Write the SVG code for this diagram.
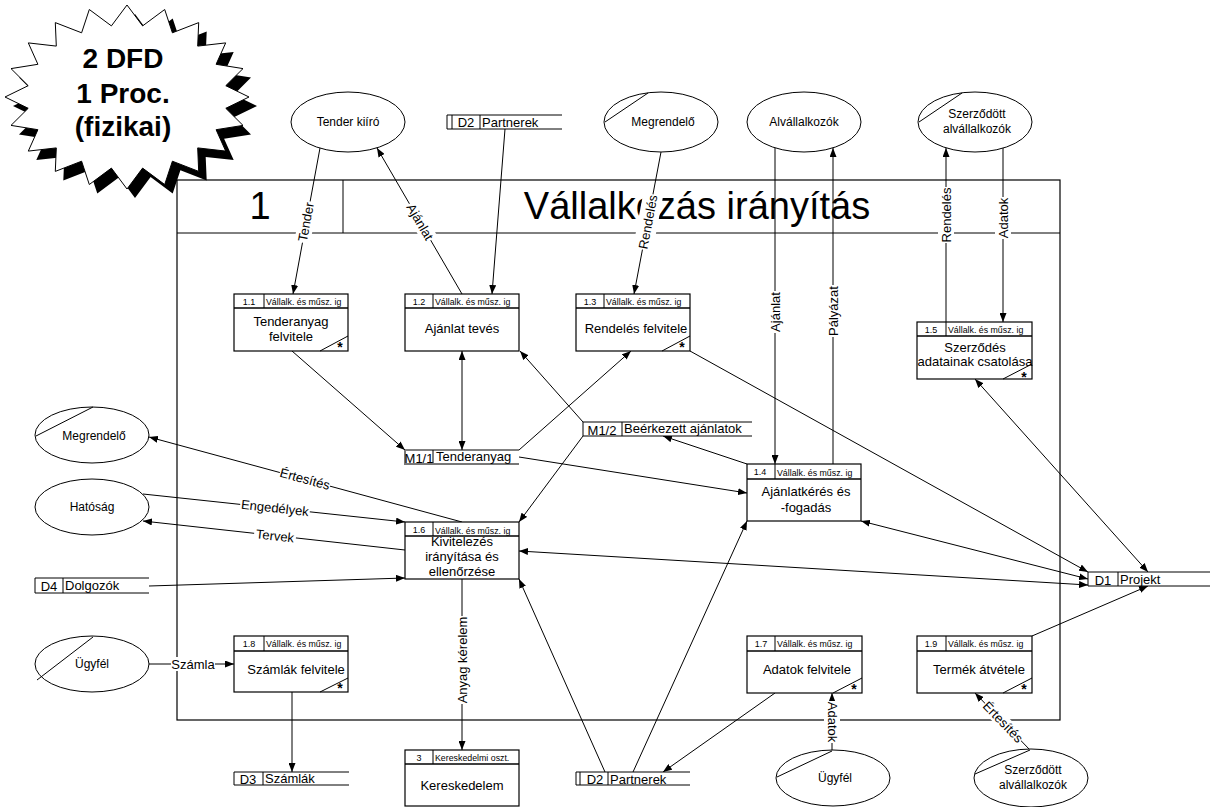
<svg xmlns="http://www.w3.org/2000/svg" width="1210" height="807" viewBox="0 0 1210 807">
<defs>
  <marker id="ah" markerWidth="9" markerHeight="7" refX="9" refY="3.5" orient="auto-start-reverse" markerUnits="userSpaceOnUse">
    <path d="M0,0 L9,3.5 L0,7 z" fill="#000"/>
  </marker>
  <style>
    text { font-family: "Liberation Sans", Arial, sans-serif; fill: #000; }
    .ln { stroke: #000; stroke-width: 1; fill: none; }
    .arr { stroke: #000; stroke-width: 1; fill: none; marker-end: url(#ah); }
    .bi { stroke: #000; stroke-width: 1; fill: none; marker-start: url(#ah); marker-end: url(#ah); }
    .box { fill: #fff; stroke: #000; stroke-width: 1.2; }
    .hdr { stroke: #000; stroke-width: 1.6; }
    .ent { fill: #fff; stroke: #000; stroke-width: 1; }
    .num { font-size: 9px; text-anchor: middle; }
    .loc { font-size: 8.8px; }
    .body { font-size: 13px; text-anchor: middle; }
    .ename { font-size: 12px; text-anchor: middle; }
    .ds { font-size: 13px; }
    .lbl { font-size: 13px; text-anchor: middle; dominant-baseline: central; }
    .bg { fill: #fff; }
    .star { font-size: 14px; font-weight: bold; text-anchor: middle; }
  </style>
</defs>

<rect width="1210" height="807" fill="#fff"/>

<!-- Process 1 boundary with its header -->
<g id="frame">
  <rect x="177" y="180" width="883" height="540" fill="none" stroke="#000" stroke-width="1.2"/>
  <line x1="177" y1="233" x2="1060" y2="233" class="ln" stroke-width="1.2"/>
  <line x1="343" y1="180" x2="343" y2="233" class="ln" stroke-width="1.2"/>
  <text x="260" y="219" font-size="38" text-anchor="middle">1</text>
  <text x="697" y="219" font-size="38" text-anchor="middle">Vállalkozás irányítás</text>
</g>

<!-- Flows -->
<g id="connectors">
  <line x1="320" y1="148" x2="293" y2="294" class="arr"/>
  <line x1="462" y1="294" x2="377" y2="148" class="arr"/>
  <line x1="505" y1="129" x2="492" y2="294" class="arr"/>
  <line x1="661" y1="152" x2="634" y2="294" class="arr"/>
  <line x1="775" y1="148" x2="775" y2="464" class="arr"/>
  <line x1="833" y1="464" x2="833" y2="148" class="arr"/>
  <line x1="946" y1="322" x2="946" y2="148" class="arr"/>
  <line x1="1003" y1="148" x2="1003" y2="322" class="arr"/>
  <line x1="292" y1="351" x2="405" y2="450" class="arr"/>
  <line x1="462" y1="450" x2="462" y2="351" class="bi"/>
  <line x1="519" y1="450" x2="631" y2="351" class="arr"/>
  <line x1="583" y1="422" x2="520" y2="351" class="arr"/>
  <line x1="690" y1="351" x2="1088" y2="572" class="arr"/>
  <line x1="583" y1="436" x2="519" y2="522" class="arr"/>
  <line x1="747" y1="464" x2="663" y2="436" class="arr"/>
  <line x1="519" y1="457" x2="747" y2="493" class="arr"/>
  <line x1="462" y1="522" x2="149" y2="437" class="arr"/>
  <line x1="143" y1="494" x2="405" y2="522" class="arr"/>
  <line x1="405" y1="550" x2="143" y2="521" class="arr"/>
  <line x1="149" y1="586" x2="405" y2="578" class="arr"/>
  <line x1="519" y1="551" x2="1088" y2="585" class="bi"/>
  <line x1="861" y1="521" x2="1088" y2="579" class="bi"/>
  <line x1="975" y1="379" x2="1148" y2="572" class="bi"/>
  <line x1="1032" y1="636" x2="1148" y2="586" class="arr"/>
  <line x1="605" y1="772" x2="519" y2="579" class="arr"/>
  <line x1="633" y1="772" x2="747" y2="521" class="arr"/>
  <line x1="775" y1="693" x2="663" y2="772" class="arr"/>
  <line x1="832" y1="750" x2="832" y2="693" class="arr"/>
  <line x1="1030" y1="750" x2="975" y2="693" class="arr"/>
  <line x1="149" y1="664" x2="234" y2="664" class="arr"/>
  <line x1="292" y1="692" x2="292" y2="772" class="arr"/>
  <line x1="462" y1="579" x2="462" y2="750" class="arr"/>

  <!-- flow labels -->
  <g transform="translate(306,222) rotate(-79.5)"><rect class="bg" x="-21" y="-8" width="42" height="16"/><text class="lbl">Tender</text></g>
  <g transform="translate(420,222) rotate(59.8)"><rect class="bg" x="-21" y="-8" width="42" height="16"/><text class="lbl">Ajánlat</text></g>
  <g transform="translate(648,222) rotate(-79.2)"><rect class="bg" x="-28" y="-10" width="56" height="20"/><text class="lbl">Rendelés</text></g>
  <g transform="translate(775,312) rotate(-90)"><rect class="bg" x="-21" y="-8" width="42" height="16"/><text class="lbl">Ajánlat</text></g>
  <g transform="translate(833,311) rotate(-90)"><rect class="bg" x="-26" y="-8" width="52" height="16"/><text class="lbl">Pályázat</text></g>
  <g transform="translate(946,215) rotate(-90)"><rect class="bg" x="-28" y="-8" width="56" height="16"/><text class="lbl">Rendelés</text></g>
  <g transform="translate(1003,218) rotate(-90)"><rect class="bg" x="-21" y="-8" width="42" height="16"/><text class="lbl">Adatok</text></g>
  <g transform="translate(305,479) rotate(15.2)"><rect class="bg" x="-26" y="-7" width="52" height="14"/><text class="lbl">Értesítés</text></g>
  <g transform="translate(275,508) rotate(6.1)"><rect class="bg" x="-35" y="-7" width="70" height="14"/><text class="lbl">Engedélyek</text></g>
  <g transform="translate(275,536) rotate(6.3)"><rect class="bg" x="-21" y="-7" width="42" height="14"/><text class="lbl">Tervek</text></g>
  <g transform="translate(193,664)"><rect class="bg" x="-22" y="-7" width="44" height="14"/><text class="lbl">Számla</text></g>
  <g transform="translate(462,660) rotate(-90)"><rect class="bg" x="-44" y="-8" width="88" height="16"/><text class="lbl">Anyag kérelem</text></g>
  <g transform="translate(832,722) rotate(90)"><rect class="bg" x="-21" y="-8" width="42" height="16"/><text class="lbl">Adatok</text></g>
  <g transform="translate(1003,722) rotate(46)"><rect class="bg" x="-26" y="-7" width="52" height="14"/><text class="lbl">Értesítés</text></g>
</g>

<!-- External entities -->
<g id="e-tender-kiiro">
  <ellipse class="ent" cx="348" cy="122" rx="57" ry="30"/>
  <text class="ename" x="348" y="126">Tender kiíró</text>
</g>
<g id="e-megrendelo-top">
  <ellipse class="ent" cx="661" cy="122" rx="57" ry="30"/>
  <line class="ln" x1="605" y1="122" x2="648" y2="93"/>
  <text class="ename" x="663" y="126">Megrendelő</text>
</g>
<g id="e-alvallalkozok">
  <ellipse class="ent" cx="804" cy="122" rx="57" ry="30"/>
  <text class="ename" x="804" y="126">Alvállalkozók</text>
</g>
<g id="e-szerzodott-top">
  <ellipse class="ent" cx="975" cy="122" rx="57" ry="30"/>
  <line class="ln" x1="919" y1="122" x2="962" y2="93"/>
  <text class="ename" x="977" y="118">Szerződött</text>
  <text class="ename" x="977" y="133">alvállalkozók</text>
</g>
<g id="e-megrendelo-left">
  <ellipse class="ent" cx="92" cy="435" rx="57" ry="28"/>
  <line class="ln" x1="36" y1="436" x2="93" y2="407"/>
  <text class="ename" x="94" y="440">Megrendelő</text>
</g>
<g id="e-hatosag">
  <ellipse class="ent" cx="92" cy="507" rx="57" ry="28"/>
  <text class="ename" x="92" y="511">Hatóság</text>
</g>
<g id="e-ugyfel-left">
  <ellipse class="ent" cx="92" cy="664" rx="57" ry="28"/>
  <line class="ln" x1="37" y1="680" x2="93" y2="637"/>
  <text class="ename" x="92" y="668">Ügyfél</text>
</g>
<g id="e-ugyfel-bottom">
  <ellipse class="ent" cx="833" cy="778" rx="57" ry="28"/>
  <line class="ln" x1="777" y1="777" x2="832" y2="751"/>
  <text class="ename" x="835" y="782">Ügyfél</text>
</g>
<g id="e-szerzodott-bottom">
  <ellipse class="ent" cx="1031" cy="778" rx="57" ry="29"/>
  <line class="ln" x1="975" y1="774" x2="1030" y2="750"/>
  <text class="ename" x="1033" y="774">Szerződött</text>
  <text class="ename" x="1033" y="789">alvállalkozók</text>
</g>

<!-- Data stores -->
<g id="ds-d2-top">
  <rect x="447" y="115" width="33" height="14" fill="#fff" stroke="none"/>
  <path class="ln" d="M562,115 H447 V129 H562 M452,115 V129 M480,115 V129"/>
  <text class="ds" x="466" y="127" text-anchor="middle">D2</text>
  <text class="ds" x="482" y="127">Partnerek</text>
</g>
<g id="ds-d2-bottom">
  <rect x="576" y="772" width="114" height="13" fill="#fff" stroke="none"/>
  <path class="ln" d="M690,772 H576 V785 H690 M580,772 V785 M608,772 V785"/>
  <text class="ds" x="595" y="784" text-anchor="middle">D2</text>
  <text class="ds" x="610" y="784">Partnerek</text>
</g>
<g id="ds-d1">
  <rect x="1088" y="572" width="122" height="14" fill="#fff" stroke="none"/>
  <path class="ln" d="M1210,572 H1088 V586 H1210 M1118,572 V586"/>
  <text class="ds" x="1103" y="585" text-anchor="middle">D1</text>
  <text class="ds" x="1120" y="584">Projekt</text>
</g>
<g id="ds-d4">
  <rect x="35" y="578" width="114" height="15" fill="#fff" stroke="none"/>
  <path class="ln" d="M149,578 H35 V593 H149 M63,578 V593"/>
  <text class="ds" x="49" y="591" text-anchor="middle">D4</text>
  <text class="ds" x="65" y="590">Dolgozók</text>
</g>
<g id="ds-d3">
  <rect x="234" y="772" width="115" height="13" fill="#fff" stroke="none"/>
  <path class="ln" d="M349,772 H234 V785 H349 M263,772 V785"/>
  <text class="ds" x="248" y="784" text-anchor="middle">D3</text>
  <text class="ds" x="265" y="783">Számlák</text>
</g>
<g id="ds-m1-1">
  <rect x="405" y="450" width="114" height="14" fill="#fff" stroke="none"/>
  <path class="ln" d="M519,450 H405 M433,450 V464"/>
  <path d="M405,450 V464 H519" fill="none" stroke="#777" stroke-width="2"/>
  <text class="ds" x="419" y="463" text-anchor="middle">M1/1</text>
  <text class="ds" x="436" y="461">Tenderanyag</text>
</g>
<g id="ds-m1-2">
  <rect x="583" y="422" width="169" height="14" fill="#fff" stroke="none"/>
  <path class="ln" d="M752,422 H583 V436 H752 M622,422 V436"/>
  <text class="ds" x="602" y="435" text-anchor="middle">M1/2</text>
  <text class="ds" x="624" y="433">Beérkezett ajánlatok</text>
</g>

<!-- Processes -->
<g id="p-1-1">
  <rect class="box" x="234" y="294" width="114" height="57"/>
  <line class="hdr" x1="234" y1="308" x2="348" y2="308"/>
  <line class="ln" x1="264" y1="294" x2="264" y2="308"/>
  <text class="num" x="249" y="305">1.1</text>
  <text class="loc" x="266" y="305">Vállalk. és műsz. ig</text>
  <text class="body" x="291" y="326">Tenderanyag</text>
  <text class="body" x="291" y="341">felvitele</text>
  <line class="ln" x1="320" y1="351" x2="348" y2="336"/>
  <text class="star" x="340" y="352">*</text>
</g>
<g id="p-1-2">
  <rect class="box" x="405" y="294" width="114" height="57"/>
  <line class="hdr" x1="405" y1="308" x2="519" y2="308"/>
  <line class="ln" x1="433" y1="294" x2="433" y2="308"/>
  <text class="num" x="419" y="305">1.2</text>
  <text class="loc" x="435" y="305">Vállalk. és műsz. ig</text>
  <text class="body" x="462" y="333">Ajánlat tevés</text>
</g>
<g id="p-1-3">
  <rect class="box" x="576" y="294" width="114" height="57"/>
  <line class="hdr" x1="576" y1="308" x2="690" y2="308"/>
  <line class="ln" x1="604" y1="294" x2="604" y2="308"/>
  <text class="num" x="590" y="305">1.3</text>
  <text class="loc" x="606" y="305">Vállalk. és műsz. ig</text>
  <text class="body" x="636" y="333">Rendelés felvitele</text>
  <line class="ln" x1="662" y1="351" x2="690" y2="336"/>
  <text class="star" x="682" y="352">*</text>
</g>
<g id="p-1-5">
  <rect class="box" x="917" y="322" width="115" height="57"/>
  <line class="hdr" x1="917" y1="336" x2="1032" y2="336"/>
  <line class="ln" x1="946" y1="322" x2="946" y2="336"/>
  <text class="num" x="931" y="333">1.5</text>
  <text class="loc" x="948" y="333">Vállalk. és műsz. ig</text>
  <line class="ln" x1="1003" y1="379" x2="1032" y2="364"/>
  <text class="star" x="1024" y="382">*</text>
  <text class="body" x="975" y="352">Szerződés</text>
  <text class="body" x="975" y="366">adatainak csatolása</text>
</g>
<g id="p-1-4">
  <rect class="box" x="747" y="464" width="114" height="57"/>
  <line class="hdr" x1="747" y1="479" x2="861" y2="479"/>
  <line class="ln" x1="775" y1="464" x2="775" y2="479"/>
  <text class="num" x="760" y="475">1.4</text>
  <text class="loc" x="777" y="476">Vállalk. és műsz. ig</text>
  <text class="body" x="806" y="496">Ajánlatkérés és</text>
  <text class="body" x="806" y="512">-fogadás</text>
</g>
<g id="p-1-6">
  <rect class="box" x="405" y="522" width="114" height="57"/>
  <line class="hdr" x1="405" y1="536" x2="519" y2="536"/>
  <line class="ln" x1="433" y1="522" x2="433" y2="536"/>
  <text class="num" x="419" y="533">1.6</text>
  <text class="loc" x="435" y="534">Vállalk. és műsz. ig</text>
  <text class="body" x="462" y="546">Kivitelezés</text>
  <text class="body" x="462" y="561">irányítása és</text>
  <text class="body" x="462" y="576">ellenőrzése</text>
</g>
<g id="p-1-8">
  <rect class="box" x="234" y="636" width="114" height="56"/>
  <line class="hdr" x1="234" y1="651" x2="348" y2="651"/>
  <line class="ln" x1="264" y1="636" x2="264" y2="651"/>
  <text class="num" x="249" y="647">1.8</text>
  <text class="loc" x="266" y="647">Vállalk. és műsz. ig</text>
  <text class="body" x="296" y="674">Számlák felvitele</text>
  <line class="ln" x1="320" y1="692" x2="348" y2="678"/>
  <text class="star" x="340" y="693">*</text>
</g>
<g id="p-1-7">
  <rect class="box" x="747" y="636" width="115" height="57"/>
  <line class="hdr" x1="747" y1="651" x2="862" y2="651"/>
  <line class="ln" x1="775" y1="636" x2="775" y2="651"/>
  <text class="num" x="761" y="647">1.7</text>
  <text class="loc" x="777" y="647">Vállalk. és műsz. ig</text>
  <text class="body" x="807" y="674">Adatok felvitele</text>
  <line class="ln" x1="833" y1="693" x2="862" y2="678"/>
  <text class="star" x="854" y="694">*</text>
</g>
<g id="p-1-9">
  <rect class="box" x="917" y="636" width="115" height="57"/>
  <line class="hdr" x1="917" y1="651" x2="1032" y2="651"/>
  <line class="ln" x1="946" y1="636" x2="946" y2="651"/>
  <text class="num" x="931" y="647">1.9</text>
  <text class="loc" x="948" y="647">Vállalk. és műsz. ig</text>
  <text class="body" x="979" y="674">Termék átvétele</text>
  <line class="ln" x1="1003" y1="693" x2="1032" y2="678"/>
  <text class="star" x="1024" y="694">*</text>
</g>
<g id="p-3">
  <rect class="box" x="405" y="750" width="114" height="56"/>
  <line class="hdr" x1="405" y1="764" x2="519" y2="764"/>
  <line class="ln" x1="433" y1="750" x2="433" y2="764"/>
  <text class="num" x="419" y="761">3</text>
  <text class="loc" x="435" y="761" font-size="8.4">Kereskedelmi oszt.</text>
  <text class="body" x="462" y="790">Kereskedelem</text>
</g>

<!-- Title burst with drop shadow -->
<g id="burst">
  <polygon transform="translate(8,9)" fill="#000" points="127,5 142.6,25.9 164.7,9.5 172.4,32.8 198.7,22.6 197.7,46.1 225.7,42.9 216.1,64.3 243,68.6 225.8,85.7 249,97 225.8,108.3 243,125.4 216.1,129.7 225.7,151.1 197.7,147.9 198.7,171.4 172.4,161.2 164.7,184.5 142.6,168.1 127,189 111.4,168.1 89.3,184.5 81.6,161.2 55.3,171.4 56.3,147.9 28.3,151.1 37.9,129.7 11,125.4 28.2,108.3 5,97 28.2,85.7 11,68.6 37.9,64.3 28.3,42.9 56.3,46.1 55.3,22.6 81.6,32.8 89.3,9.5 111.4,25.9"/>
  <polygon fill="#fff" stroke="#000" stroke-width="1" points="127,5 142.6,25.9 164.7,9.5 172.4,32.8 198.7,22.6 197.7,46.1 225.7,42.9 216.1,64.3 243,68.6 225.8,85.7 249,97 225.8,108.3 243,125.4 216.1,129.7 225.7,151.1 197.7,147.9 198.7,171.4 172.4,161.2 164.7,184.5 142.6,168.1 127,189 111.4,168.1 89.3,184.5 81.6,161.2 55.3,171.4 56.3,147.9 28.3,151.1 37.9,129.7 11,125.4 28.2,108.3 5,97 28.2,85.7 11,68.6 37.9,64.3 28.3,42.9 56.3,46.1 55.3,22.6 81.6,32.8 89.3,9.5 111.4,25.9"/>
  <text x="123" y="68" font-size="28" font-weight="bold" text-anchor="middle">2 DFD</text>
  <text x="123" y="103" font-size="28" font-weight="bold" text-anchor="middle">1 Proc.</text>
  <text x="123" y="136" font-size="28" font-weight="bold" text-anchor="middle">(fizikai)</text>
</g>
</svg>
